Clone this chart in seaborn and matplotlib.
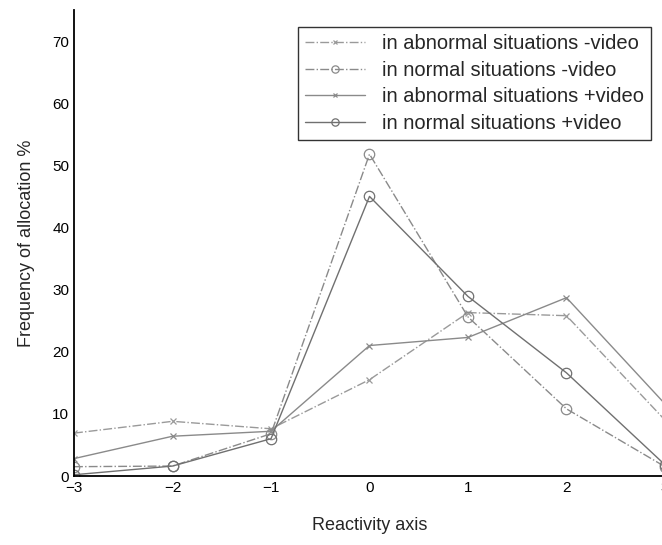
import matplotlib
matplotlib.use("Agg")
import matplotlib.pyplot as plt
import seaborn as sns
import pandas as pd

sns.set_style("white")
plt.rcParams['font.family'] = ['Liberation Sans', 'DejaVu Sans']

x_vals = [-3, -2, -1, 0, 1, 2, 3]
abnormal_minus_video = [6.9, 8.8, 7.6, 15.5, 26.3, 25.8, 9.0]
normal_minus_video = [1.5, 1.6, 6.8, 51.8, 25.6, 10.8, 1.5]
abnormal_plus_video = [2.8, 6.4, 7.2, 21.0, 22.3, 28.7, 11.6]
normal_plus_video = [0.2, 1.6, 6.0, 45.0, 28.9, 16.6, 1.8]

labels = ["in abnormal situations -video", "in normal situations -video",
          "in abnormal situations +video", "in normal situations +video"]
series = [abnormal_minus_video, normal_minus_video, abnormal_plus_video, normal_plus_video]
styles = [
    dict(color="#9a9a9a", linestyle="-.", marker="x", markersize=5, mew=0.9),
    dict(color="#8a8a8a", linestyle="-.", marker="o", markersize=7.5, mfc="none", mew=0.9),
    dict(color="#8a8a8a", linestyle="-", marker="x", markersize=5, mew=0.9),
    dict(color="#707070", linestyle="-", marker="o", markersize=7.5, mfc="none", mew=0.9),
]

fig = plt.figure(figsize=(6.62, 5.45), dpi=100)
ax = fig.add_axes([74/662, 69/545, 591/662, 466/545])

for lab, vals, st in zip(labels, series, styles):
    df = pd.DataFrame({"x": x_vals, "y": vals})
    sns.lineplot(data=df, x="x", y="y", ax=ax, label=lab, linewidth=1.0,
                 markeredgecolor=st["color"], **st)

ax.set_xlim(-3, 3)
ax.set_ylim(0, 75)
ax.set_xticks(x_vals)
ax.set_xticklabels(["\u22123", "\u22122", "\u22121", "0", "1", "2", "3"])
ax.set_yticks(range(0, 71, 10))
ax.tick_params(direction="in", length=5, width=1.2, labelsize=11, colors="black")
for s in ["top", "right"]:
    ax.spines[s].set_visible(False)
for s in ["left", "bottom"]:
    ax.spines[s].set_color("black")
    ax.spines[s].set_linewidth(1.3)

ax.set_xlabel("Reactivity axis", fontsize=13, labelpad=16)
ax.set_ylabel("Frequency of allocation %", fontsize=13, labelpad=12)

leg = ax.legend(loc="upper left", bbox_to_anchor=(298/662, 1 - 27/545),
                bbox_transform=fig.transFigure, fontsize=14.5, frameon=True,
                fancybox=False, borderpad=0.35, labelspacing=0.38,
                handlelength=3.0, handletextpad=0.8, borderaxespad=0,
                markerscale=0.7)
leg.get_frame().set_edgecolor("black")
leg.get_frame().set_linewidth(1.0)

fig.savefig("out.png", dpi=100)
